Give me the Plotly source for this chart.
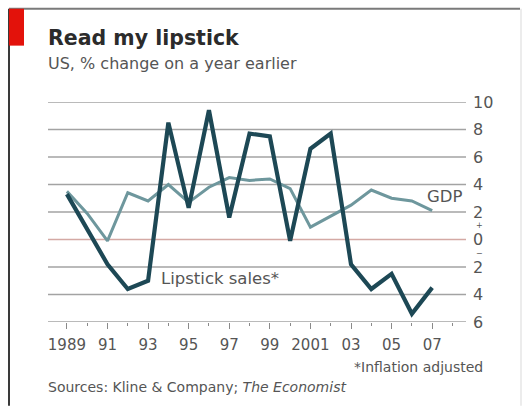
import plotly.graph_objects as go

# Annual % change, US
years = list(range(1989, 2008))
lipstick_sales = [3.3, 0.8, -1.8, -3.6, -3.0, 8.5, 2.3, 9.4, 1.6, 7.7, 7.5,
                  -0.1, 6.6, 7.7, -1.8, -3.6, -2.5, -5.4, -3.5]
gdp = [3.5, 1.9, -0.1, 3.4, 2.8, 4.0, 2.7, 3.8, 4.5, 4.3, 4.4,
       3.7, 0.9, 1.7, 2.5, 3.6, 3.0, 2.8, 2.1]

x_tick_years = list(range(1989, 2008, 2))
x_tick_text = ["1989", "91", "93", "95", "97", "99", "2001", "03", "05", "07"]
y_ticks = [10, 8, 6, 4, 2, 0, -2, -4, -6]
y_tick_text = ["10", "8", "6", "4", "2", "0", "2", "4", "6"]

W, H = 528, 406
L, R, T, B = 48, 62, 101.5, 84
PW, PH = W - L - R, H - T - B

FONT = "DejaVu Sans"
DARK = "#1d4855"
LIGHT = "#6e979d"
GRID = "#a3a3a3"
TXT = "#555555"


def px(x):
    return (x - L) / PW


def py(y):
    return (H - B - y) / PH


fig = go.Figure()
fig.add_trace(go.Scatter(x=years, y=gdp, mode="lines",
                         line=dict(color=LIGHT, width=3), hoverinfo="skip"))
fig.add_trace(go.Scatter(x=years, y=lipstick_sales, mode="lines",
                         line=dict(color=DARK, width=4.2), hoverinfo="skip"))

shapes = []
# horizontal gridlines (zero line tinted red)
for v in y_ticks:
    shapes.append(dict(type="line", xref="x domain", yref="y", x0=0, x1=1,
                       y0=v, y1=v, layer="below",
                       line=dict(color="#d4a9a4" if v == 0 else GRID, width=1.4)))
# frame and red tag
shapes += [
    dict(type="line", xref="paper", yref="paper", x0=px(9), x1=px(9),
         y0=py(8), y1=py(406), line=dict(color="#3a3a3a", width=2)),
    dict(type="line", xref="paper", yref="paper", x0=px(9), x1=px(520),
         y0=py(8), y1=py(8), line=dict(color="#7a7a7a", width=2)),
    dict(type="line", xref="paper", yref="paper", x0=px(521), x1=px(521),
         y0=py(8), y1=py(406), line=dict(color="#e6e6e6", width=1.5)),
    dict(type="rect", xref="paper", yref="paper", x0=px(9), x1=px(24),
         y0=py(8), y1=py(45), line=dict(width=0), fillcolor="#e3120b"),
]

annotations = []
for v, t in zip(y_ticks, y_tick_text):
    annotations.append(dict(xref="x domain", yref="y", x=1, y=v, text=t,
                            showarrow=False, xanchor="left", xshift=5,
                            font=dict(family=FONT, size=16, color=TXT)))
annotations += [
    dict(xref="x domain", yref="y", x=1, y=1, text="+", showarrow=False,
         xanchor="left", xshift=8, font=dict(family=FONT, size=8, color=TXT)),
    dict(xref="x domain", yref="y", x=1, y=-1, text="\u2212", showarrow=False,
         xanchor="left", xshift=8, font=dict(family=FONT, size=8, color=TXT)),
    dict(xref="paper", yref="paper", x=px(46), y=py(37), text="<b>Read my lipstick</b>",
         showarrow=False, xanchor="left", yanchor="middle",
         font=dict(family=FONT, size=20.5, color="#2b2b2b")),
    dict(xref="paper", yref="paper", x=px(46), y=py(63),
         text="US, % change on a year earlier", showarrow=False,
         xanchor="left", yanchor="middle", font=dict(family=FONT, size=16, color=TXT)),
    dict(xref="paper", yref="paper", x=px(444), y=py(196), text="GDP",
         showarrow=False, xanchor="center", yanchor="middle",
         font=dict(family=FONT, size=16.5, color=TXT)),
    dict(xref="paper", yref="paper", x=px(159), y=py(278), text="Lipstick sales*",
         showarrow=False, xanchor="left", yanchor="middle",
         font=dict(family=FONT, size=16.5, color=TXT)),
    dict(xref="paper", yref="paper", x=px(485), y=py(367), text="*Inflation adjusted",
         showarrow=False, xanchor="right", yanchor="middle",
         font=dict(family=FONT, size=14, color=TXT)),
    dict(xref="paper", yref="paper", x=px(46), y=py(387),
         text="Sources: Kline &amp; Company; <i>The Economist</i>", showarrow=False,
         xanchor="left", yanchor="middle", font=dict(family=FONT, size=14, color=TXT)),
]

x0 = 1989 - 19 / 20.4
x1 = 2007 + 34 / 20.4

fig.update_layout(
    width=W, height=H,
    margin=dict(l=L, r=R, t=T, b=B, pad=0),
    paper_bgcolor="white", plot_bgcolor="white",
    showlegend=False,
    shapes=shapes, annotations=annotations,
    xaxis=dict(range=[x0, x1], tickvals=x_tick_years, ticktext=x_tick_text,
               showgrid=False, zeroline=False, showline=False,
               ticks="outside", ticklen=6, tickwidth=1.2, tickcolor="#8a8a8a",
               ticklabelstandoff=3,
               minor=dict(dtick=1, tick0=1990, ticks="outside", ticklen=3,
                          tickcolor="#8a8a8a", tickwidth=1.2, showgrid=False),
               tickfont=dict(family=FONT, size=15, color=TXT), fixedrange=True),
    yaxis=dict(range=[-6, 10], showgrid=False, zeroline=False, showline=False,
               showticklabels=False, ticks="", fixedrange=True),
)

fig.write_html("out.html")
